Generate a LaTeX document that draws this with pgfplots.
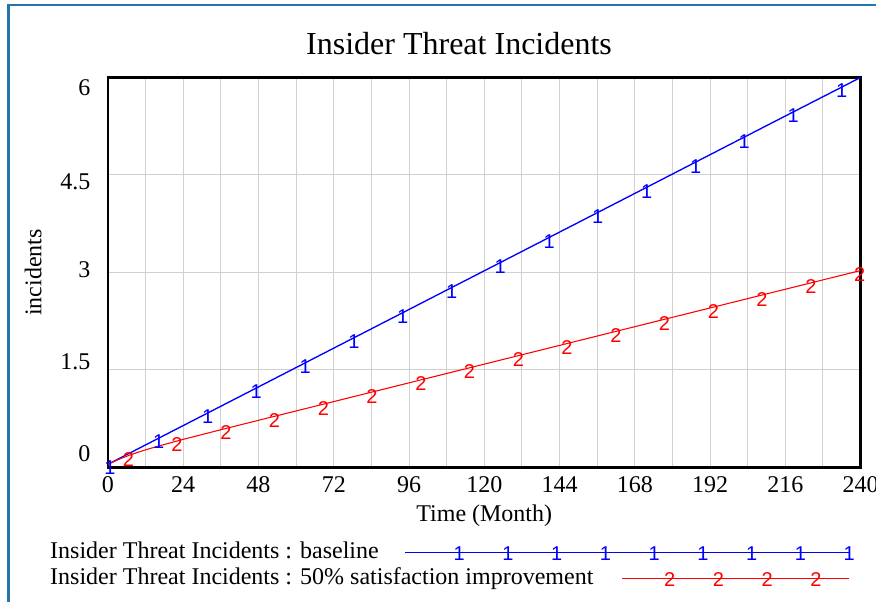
\documentclass[border=0pt]{standalone}
\usepackage{pgfplots}
\pgfplotsset{compat=1.18}
\usepackage{fontspec}
\setmainfont{Liberation Serif}
\newfontfamily\markfont{Liberation Sans}
\definecolor{framecol}{RGB}{38,117,168}
\definecolor{gridcol}{RGB}{208,208,208}
\newcommand{\mk}{\markfont\fontsize{15}{15}\selectfont}
\begin{document}
\begin{tikzpicture}
\useasboundingbox (0,0) rectangle (657pt,451.5pt);
\draw[framecol, line width=2pt] (6.375pt,-20pt) -- (6.375pt,447.75pt) -- (680pt,447.75pt);
\begin{axis}[
  at={(81pt,100.875pt)}, anchor=south west,
  scale only axis, width=564.375pt, height=292.5pt,
  xmin=0, xmax=240, ymin=0, ymax=6,
  clip=false,
  axis line style={line width=2pt, black},
  xtick={0,24,...,240}, minor xtick={12,36,...,228},
  ytick={0,1.5,3,4.5,6}, yticklabels={},
  extra y ticks={0.22,1.63,3.04,4.40,5.84},
  extra y tick labels={0,1.5,3,4.5,6},
  extra y tick style={grid=none, yticklabel style={xshift=-9.75pt}},
  major tick length=0pt, minor tick length=0pt,
  xmajorgrids, xminorgrids, ymajorgrids,
  grid style={gridcol, line width=0.75pt},
  minor grid style={gridcol, line width=0.75pt},
  tick label style={font=\fontsize{18}{21}\selectfont},
  xticklabel style={yshift=-3.4pt},
  /pgf/number format/assume math mode=true,
  title={Insider Threat Incidents},
  title style={font=\fontsize{24}{28}\selectfont, at={(axis description cs:0.4665,1.0372)}, anchor=base},
  xlabel={Time (Month)},
  xlabel style={font=\fontsize{18}{21}\selectfont, at={(axis description cs:0.5,-0.1397)}, anchor=base},
  ylabel={incidents},
  ylabel style={font=\fontsize{18}{21}\selectfont, at={(axis description cs:-0.0884,0.5)}, anchor=base},
  legend cell align=left,
  legend style={at={(axis description cs:-0.0771,-0.1885)}, anchor=north west, draw=none, fill=none,
    inner sep=0pt, column sep=0pt, row sep=2.5pt, font=\fontsize{18}{21}\selectfont,
    nodes={inner sep=0pt, text height=13pt, text depth=4pt}},
]
% baseline
\addplot[blue, line width=1pt, forget plot] coordinates {
(0,0.05) (24,0.645) (48,1.240) (72,1.836) (96,2.431) (120,3.026) (144,3.621) (168,4.216) (192,4.812) (216,5.407) (240,6.0)};
\addplot[blue, only marks, mark=text, text mark={1}, text mark as node=true,
  text mark style={font=\mk, text=blue, inner sep=0pt, yshift=-3pt}, forget plot] coordinates {
(0.6,0.065) (16.2,0.452) (31.8,0.839) (47.3,1.223) (62.9,1.610) (78.4,1.994) (94.0,2.381) (109.6,2.768) (125.1,3.152) (140.7,3.539) (156.2,3.924) (171.8,4.311) (187.4,4.698) (202.9,5.082) (218.5,5.469) (234.0,5.853)};
% 50% satisfaction improvement
\addplot[red, line width=0.8pt, forget plot] coordinates {
(0,0.05) (4,0.137) (8,0.209) (12,0.272) (16,0.328) (24,0.433) (36,0.581) (48,0.726) (60,0.87) (72,1.014) (84,1.158) (96,1.302) (108,1.446) (120,1.59) (132,1.734) (144,1.878) (156,2.022) (168,2.166) (180,2.31) (192,2.454) (204,2.598) (216,2.742) (228,2.886) (240,3.03)};
\addplot[red, only marks, mark=text, text mark={2}, text mark as node=true,
  text mark style={font=\mk, text=red, inner sep=0pt, yshift=-3pt}, forget plot] coordinates {
(6.5,0.184) (22.0,0.408) (37.6,0.600) (53.1,0.787) (68.7,0.974) (84.2,1.160) (99.8,1.348) (115.3,1.534) (130.9,1.721) (146.4,1.907) (162.0,2.094) (177.5,2.280) (193.1,2.467) (208.6,2.653) (224.2,2.840) (239.7,3.026)};
\addlegendimage{legend image code/.code={
  \draw[overlay, blue, line width=1pt] (266.25pt,0pt) -- (599.25pt,0pt);
  \foreach \k in {0,...,8}{\node[overlay, text=blue, font=\mk, inner sep=0pt] at ({302.25pt+\k*36.5625pt},-1.7pt) {1};}
}}
\addlegendentry{Insider Threat Incidents : baseline}
\addlegendimage{legend image code/.code={
  \draw[overlay, red, line width=0.8pt] (429pt,0pt) -- (599.25pt,0pt);
  \foreach \k in {0,...,3}{\node[overlay, text=red, font=\mk, inner sep=0pt] at ({460.125pt+\k*36.5625pt},-1.7pt) {2};}
}}
\addlegendentry{Insider Threat Incidents : 50\% satisfaction improvement}
\end{axis}
\end{tikzpicture}
\end{document}
